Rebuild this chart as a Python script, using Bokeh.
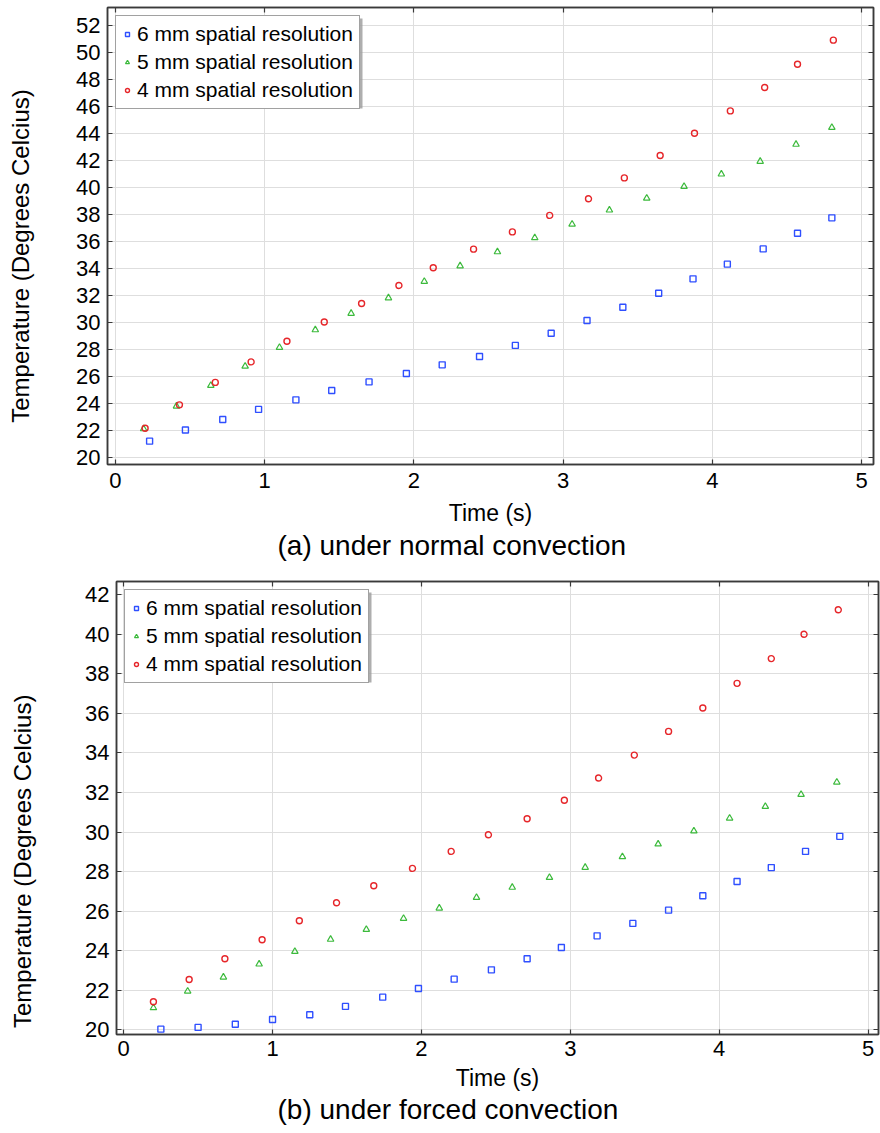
from bokeh.plotting import figure
from bokeh.models import (Range1d, FixedTicker, LinearAxis, Legend, LegendItem,
                          Title, BoxAnnotation)
from bokeh.embed import file_html
from bokeh.resources import INLINE

# ---------------- data: (a) normal convection ----------------
t_6mm_a = [0.23, 0.47, 0.72, 0.96, 1.21, 1.45, 1.70, 1.95, 2.19, 2.44,
           2.68, 2.92, 3.16, 3.40, 3.64, 3.87, 4.10, 4.34, 4.57, 4.80]
T_6mm_a = [21.21, 22.04, 22.81, 23.56, 24.27, 24.96, 25.60, 26.22, 26.86, 27.48,
           28.30, 29.20, 30.15, 31.13, 32.17, 33.23, 34.32, 35.45, 36.61, 37.75]
t_5mm_a = [0.19, 0.41, 0.64, 0.87, 1.10, 1.34, 1.58, 1.83, 2.07, 2.31,
           2.56, 2.81, 3.06, 3.31, 3.56, 3.81, 4.06, 4.32, 4.56, 4.80]
T_5mm_a = [22.12, 23.80, 25.33, 26.76, 28.15, 29.45, 30.67, 31.82, 33.04, 34.19,
           35.23, 36.27, 37.28, 38.32, 39.20, 40.07, 40.99, 41.93, 43.19, 44.44]
t_4mm_a = [0.20, 0.43, 0.67, 0.91, 1.15, 1.40, 1.65, 1.90, 2.13, 2.40,
           2.66, 2.91, 3.17, 3.41, 3.65, 3.88, 4.12, 4.35, 4.57, 4.81]
T_4mm_a = [22.17, 23.90, 25.56, 27.08, 28.61, 30.04, 31.40, 32.74, 34.05, 35.43,
           36.71, 37.93, 39.16, 40.71, 42.37, 44.02, 45.67, 47.40, 49.13, 50.91]

# ---------------- data: (b) forced convection ----------------
t_6mm_b = [0.25, 0.50, 0.75, 1.00, 1.25, 1.49, 1.74, 1.98, 2.22, 2.47,
           2.71, 2.94, 3.18, 3.42, 3.66, 3.89, 4.12, 4.35, 4.58, 4.81]
T_6mm_b = [20.03, 20.12, 20.28, 20.52, 20.76, 21.18, 21.65, 22.09, 22.56, 23.03,
           23.59, 24.16, 24.75, 25.38, 26.05, 26.78, 27.50, 28.20, 29.02, 29.78]
t_5mm_b = [0.20, 0.43, 0.67, 0.91, 1.15, 1.39, 1.63, 1.88, 2.12, 2.37,
           2.61, 2.86, 3.10, 3.35, 3.59, 3.83, 4.07, 4.31, 4.55, 4.79]
T_5mm_b = [21.11, 21.95, 22.66, 23.32, 23.96, 24.57, 25.07, 25.63, 26.15, 26.69,
           27.20, 27.70, 28.21, 28.75, 29.39, 30.05, 30.70, 31.29, 31.90, 32.52]
t_4mm_b = [0.20, 0.44, 0.68, 0.93, 1.18, 1.43, 1.68, 1.94, 2.20, 2.45,
           2.71, 2.96, 3.19, 3.43, 3.66, 3.89, 4.12, 4.35, 4.57, 4.80]
T_4mm_b = [21.42, 22.54, 23.59, 24.55, 25.51, 26.42, 27.28, 28.16, 29.02, 29.86,
           30.67, 31.61, 32.73, 33.89, 35.09, 36.27, 37.52, 38.77, 40.00, 41.24]

x_ticks = [0, 1, 2, 3, 4, 5]
y_ticks_a = list(range(20, 53, 2))
y_ticks_b = list(range(20, 43, 2))

series_labels = ["6 mm spatial resolution", "5 mm spatial resolution",
                 "4 mm spatial resolution"]
y_title = "Temperature (Degrees Celcius)"

FONT = "Liberation Sans"
BLUE = "#2f4fff"
GREEN = "#3cba3c"
RED = "#e6262a"
FRAME = "#3a3a3a"
NBSP = "\u00a0"

# legend box geometry in pixels (offset from the frame's top-left corner)
LEG_MARGIN = 8
LEG_W, LEG_H = 244, 90
SHADOW = 3


def style_axis(ax, ticks, show_labels=True):
    ax.ticker = FixedTicker(ticks=ticks)
    ax.major_tick_in = 5
    ax.major_tick_out = 0
    ax.minor_tick_line_color = None
    ax.major_tick_line_color = FRAME
    ax.major_tick_line_width = 1.2
    ax.axis_line_color = FRAME
    ax.axis_line_width = 1.5
    if show_labels:
        ax.major_label_text_font = FONT
        ax.major_label_text_font_size = "22px"
        ax.major_label_text_color = "black"
    else:
        # tick marks only (frame ticks on the top and right edges)
        ax.major_label_text_color = None
        ax.major_label_text_font_size = "2px"
        ax.major_label_standoff = 0


def make_panel(data, xr, yr, yticks, size, borders, caption, cap_offset,
               ylabel_standoff, ylabel_pad, tick_standoff, xlabel_standoff,
               cap_standoff):
    w, h = size
    bl, br, bt, bb = borders
    p = figure(width=w, height=h, x_range=Range1d(*xr), y_range=Range1d(*yr),
               output_backend="svg", toolbar_location=None,
               min_border_left=bl, min_border_right=br,
               min_border_top=bt, min_border_bottom=bb)
    p.background_fill_color = "white"
    p.border_fill_color = "white"
    p.outline_line_color = FRAME
    p.outline_line_width = 1.5

    p.xgrid.ticker = FixedTicker(ticks=x_ticks)
    p.ygrid.ticker = FixedTicker(ticks=yticks)
    for g in (p.xgrid[0], p.ygrid[0]):
        g.grid_line_color = "#dedede"
        g.grid_line_width = 1

    xa, ya = p.xaxis[0], p.yaxis[0]
    style_axis(xa, x_ticks)
    style_axis(ya, yticks)
    xa.major_label_standoff = tick_standoff
    ya.major_label_standoff = 7
    xa.axis_label = "Time (s)"
    xa.axis_label_text_font = FONT
    xa.axis_label_text_font_size = "23px"
    xa.axis_label_text_font_style = "normal"
    xa.axis_label_text_color = "black"
    xa.axis_label_standoff = xlabel_standoff
    # trailing no-break spaces move the centred title towards the lower end
    ya.axis_label = y_title + NBSP * ylabel_pad
    ya.axis_label_text_font = FONT
    ya.axis_label_text_font_size = "24px"
    ya.axis_label_text_font_style = "normal"
    ya.axis_label_text_color = "black"
    ya.axis_label_standoff = ylabel_standoff

    top_ax = LinearAxis()
    right_ax = LinearAxis()
    style_axis(top_ax, x_ticks, show_labels=False)
    style_axis(right_ax, yticks, show_labels=False)
    p.add_layout(top_ax, "above")
    p.add_layout(right_ax, "right")

    (t6, T6), (t5, T5), (t4, T4) = data
    r6 = p.scatter(t6, T6, marker="square", size=6, line_color=BLUE,
                   line_width=1.4, fill_color=None)
    r5 = p.scatter(t5, T5, marker="triangle", size=6.5, line_color=GREEN,
                   line_width=1.2, fill_color=None)
    r4 = p.scatter(t4, T4, marker="circle", size=6, line_color=RED,
                   line_width=1.4, fill_color=None)

    # drop shadow behind the legend box, converted from pixels to data units
    fw, fh = w - bl - br, h - bt - bb
    dx = (xr[1] - xr[0]) / fw
    dy = (yr[1] - yr[0]) / fh
    s_left = xr[0] + (LEG_MARGIN + SHADOW) * dx
    s_right = xr[0] + (LEG_MARGIN + LEG_W + SHADOW) * dx
    s_top = yr[1] - (LEG_MARGIN + SHADOW) * dy
    s_bottom = yr[1] - (LEG_MARGIN + LEG_H + SHADOW) * dy
    p.add_layout(BoxAnnotation(left=s_left, right=s_right, top=s_top,
                               bottom=s_bottom, fill_color="#9a9a9a",
                               fill_alpha=0.8, line_color=None,
                               level="annotation"))

    legend = Legend(items=[LegendItem(label=series_labels[0], renderers=[r6]),
                           LegendItem(label=series_labels[1], renderers=[r5]),
                           LegendItem(label=series_labels[2], renderers=[r4])],
                    location="top_left")
    legend.margin = LEG_MARGIN
    legend.padding = 6
    legend.spacing = 4
    legend.glyph_width = 10
    legend.glyph_height = 20
    legend.label_height = 20
    legend.label_standoff = 5
    legend.label_text_font = FONT
    legend.label_text_font_size = "21px"
    legend.label_text_color = "black"
    legend.label_text_baseline = "middle"
    legend.border_line_color = "#444444"
    legend.border_line_width = 1.2
    legend.background_fill_color = "white"
    legend.background_fill_alpha = 1.0
    p.add_layout(legend, "center")

    cap = Title(text=caption, align="left", offset=cap_offset,
                vertical_align="top", standoff=cap_standoff, text_font=FONT,
                text_font_size="28px", text_font_style="normal",
                text_color="black")
    p.add_layout(cap, "below")
    return p


p_a = make_panel(((t_6mm_a, T_6mm_a), (t_5mm_a, T_5mm_a), (t_4mm_a, T_4mm_a)),
                 (-0.052, 5.079), (19.48, 53.33), y_ticks_a,
                 (880, 571), (107, 7, 7, 107),
                 "(a) under normal convection", 170, 39, 6, 8, 9, 2)
p_b = make_panel(((t_6mm_b, T_6mm_b), (t_5mm_b, T_5mm_b), (t_4mm_b, T_4mm_b)),
                 (-0.048, 5.07), (19.76, 42.67), y_ticks_b,
                 (880, 562), (116, 2, 10, 99),
                 "(b) under forced convection", 161, 46, 16, 6, 6, 0)

# two independent roots stacked on the page, each keeping its own frame
open("out.html", "w").write(file_html([p_a, p_b], INLINE))
